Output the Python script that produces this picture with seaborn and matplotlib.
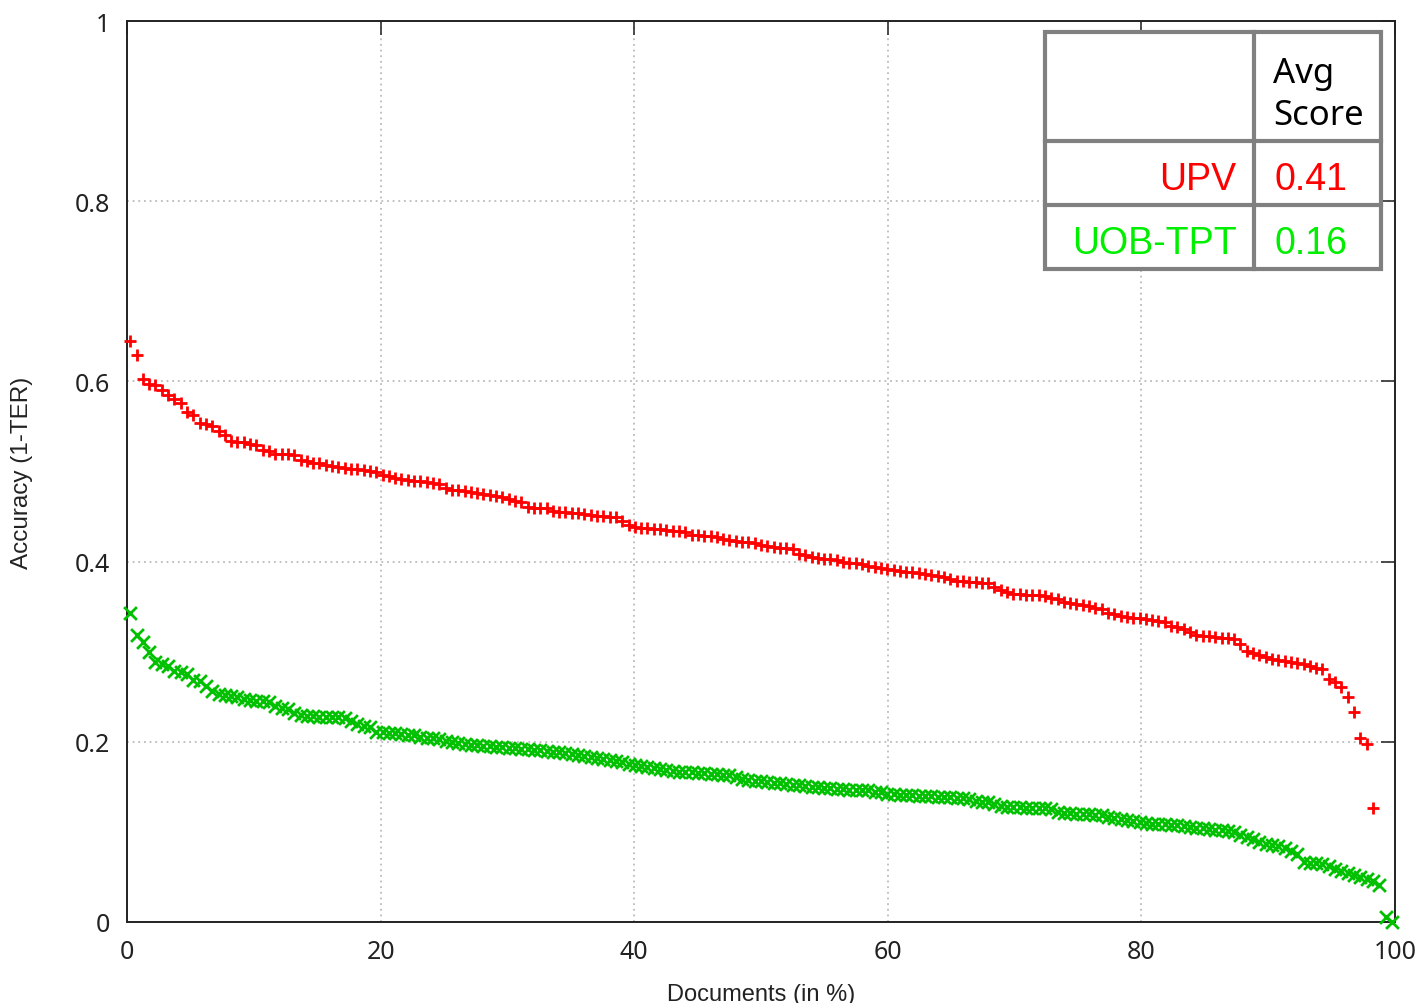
import matplotlib
matplotlib.use("Agg")
import matplotlib.pyplot as plt
import numpy as np
import pandas as pd
import seaborn as sns

# per-document accuracy (1-TER), sorted descending, 201 documents
n_docs = 201
upv_scores = [
    0.645, 0.629, 0.603, 0.597, 0.596, 0.590, 0.585, 0.580, 0.576, 0.566,
    0.563, 0.554, 0.553, 0.551, 0.545, 0.540, 0.534, 0.533, 0.533, 0.531,
    0.529, 0.524, 0.523, 0.520, 0.519, 0.519, 0.518, 0.513, 0.512, 0.509,
    0.509, 0.507, 0.506, 0.505, 0.504, 0.503, 0.503, 0.502, 0.501, 0.500,
    0.496, 0.495, 0.493, 0.492, 0.491, 0.490, 0.490, 0.488, 0.487, 0.486,
    0.482, 0.480, 0.479, 0.478, 0.477, 0.476, 0.475, 0.474, 0.473, 0.472,
    0.470, 0.467, 0.466, 0.461, 0.460, 0.459, 0.459, 0.456, 0.455, 0.455,
    0.454, 0.454, 0.453, 0.452, 0.451, 0.451, 0.450, 0.450, 0.445, 0.441,
    0.438, 0.437, 0.437, 0.436, 0.436, 0.435, 0.434, 0.434, 0.433, 0.430,
    0.429, 0.428, 0.428, 0.427, 0.425, 0.424, 0.423, 0.422, 0.422, 0.421,
    0.418, 0.417, 0.416, 0.415, 0.415, 0.414, 0.408, 0.407, 0.405, 0.404,
    0.403, 0.403, 0.402, 0.400, 0.399, 0.398, 0.397, 0.395, 0.394, 0.393,
    0.392, 0.391, 0.390, 0.389, 0.389, 0.387, 0.386, 0.385, 0.384, 0.383,
    0.381, 0.379, 0.378, 0.377, 0.377, 0.376, 0.376, 0.372, 0.368, 0.366,
    0.364, 0.364, 0.363, 0.363, 0.363, 0.362, 0.360, 0.358, 0.355, 0.354,
    0.353, 0.352, 0.351, 0.348, 0.347, 0.343, 0.342, 0.340, 0.338, 0.337,
    0.337, 0.336, 0.335, 0.334, 0.333, 0.329, 0.327, 0.325, 0.322, 0.318,
    0.317, 0.317, 0.316, 0.315, 0.315, 0.314, 0.309, 0.301, 0.299, 0.296,
    0.294, 0.292, 0.291, 0.290, 0.289, 0.287, 0.286, 0.284, 0.282, 0.281,
    0.270, 0.266, 0.261, 0.250, 0.233, 0.204, 0.198, 0.127,
]
uob_scores = [
    0.343, 0.319, 0.311, 0.300, 0.289, 0.286, 0.284, 0.279, 0.277, 0.275,
    0.269, 0.267, 0.262, 0.256, 0.253, 0.252, 0.251, 0.250, 0.248, 0.246,
    0.245, 0.245, 0.244, 0.240, 0.238, 0.236, 0.232, 0.230, 0.229, 0.229,
    0.228, 0.228, 0.227, 0.227, 0.226, 0.223, 0.220, 0.218, 0.216, 0.211,
    0.211, 0.210, 0.210, 0.209, 0.208, 0.207, 0.205, 0.204, 0.204, 0.203,
    0.201, 0.200, 0.199, 0.198, 0.197, 0.196, 0.195, 0.195, 0.194, 0.194,
    0.193, 0.193, 0.192, 0.192, 0.191, 0.191, 0.190, 0.189, 0.189, 0.188,
    0.187, 0.185, 0.184, 0.183, 0.182, 0.181, 0.180, 0.179, 0.178, 0.175,
    0.174, 0.173, 0.172, 0.171, 0.170, 0.169, 0.168, 0.167, 0.166, 0.166,
    0.165, 0.165, 0.164, 0.164, 0.163, 0.163, 0.161, 0.159, 0.158, 0.157,
    0.156, 0.155, 0.154, 0.154, 0.153, 0.152, 0.152, 0.151, 0.150, 0.150,
    0.149, 0.149, 0.148, 0.148, 0.147, 0.147, 0.146, 0.146, 0.144, 0.144,
    0.142, 0.142, 0.141, 0.141, 0.141, 0.140, 0.140, 0.140, 0.139, 0.139,
    0.139, 0.138, 0.138, 0.136, 0.134, 0.133, 0.133, 0.131, 0.129, 0.128,
    0.128, 0.128, 0.127, 0.127, 0.127, 0.126, 0.125, 0.122, 0.121, 0.121,
    0.120, 0.120, 0.120, 0.119, 0.119, 0.116, 0.115, 0.114, 0.113, 0.112,
    0.111, 0.110, 0.109, 0.109, 0.109, 0.108, 0.108, 0.106, 0.105, 0.104,
    0.104, 0.103, 0.102, 0.102, 0.101, 0.100, 0.097, 0.094, 0.092, 0.089,
    0.087, 0.086, 0.084, 0.082, 0.079, 0.075, 0.067, 0.066, 0.065, 0.064,
    0.062, 0.059, 0.057, 0.054, 0.052, 0.050, 0.048, 0.045, 0.041, 0.006,
    0.000,
]

systems = ["UPV", "UOB-TPT"]
avg_scores = ["0.41", "0.16"]
sys_colors = {"UPV": "#ff0000", "UOB-TPT": "#00c000"}
text_colors = {"UPV": "#ff0000", "UOB-TPT": "#00ee00"}
sys_markers = {"UPV": "+", "UOB-TPT": "x"}

x_ticks = [0, 20, 40, 60, 80, 100]
y_ticks = [0, 0.2, 0.4, 0.6, 0.8, 1]


def doc_frame(name, scores):
    rank = np.arange(len(scores))
    return pd.DataFrame({
        "doc_pct": (rank + 0.5) * 100.0 / n_docs,
        "score": scores,
        "system": name,
    })


df = pd.concat([doc_frame("UPV", upv_scores), doc_frame("UOB-TPT", uob_scores)],
               ignore_index=True)

sns.set_theme(style="white")
plt.rcParams["font.family"] = ["Noto Sans", "DejaVu Sans"]

fig = plt.figure(figsize=(14.18, 10.04), dpi=100)
ax = fig.add_axes([0.0896, 0.0807, 0.8942, 0.8973])

for name in systems:
    sub = df[df["system"] == name]
    sns.scatterplot(data=sub, x="doc_pct", y="score", ax=ax,
                    marker=sys_markers[name], color=sys_colors[name],
                    s=85, linewidth=2.0, legend=False, clip_on=False,
                    zorder=3)

ax.set_xlim(0, 100)
ax.set_ylim(0, 1)
ax.set_xticks(x_ticks)
ax.set_yticks(y_ticks)
ax.set_xticklabels([f"{v:g}" for v in x_ticks])
ax.set_yticklabels([f"{v:g}" for v in y_ticks])
ax.tick_params(axis="both", which="major", direction="in", length=10, width=1.2,
               labelsize=18, colors="#303030", top=True, right=True, pad=12,
               labelcolor="#222222")
ax.grid(True, color="#b0b0b0", linestyle=(0, (1.2, 2.5)), linewidth=1.1)
for sp in ax.spines.values():
    sp.set_color("#222222")
    sp.set_linewidth(1.4)

ax.set_xlabel("Documents (in %)", family=["Liberation Sans", "DejaVu Sans"],
              fontsize=17, color="#222222", labelpad=14)
ax.set_ylabel("Accuracy (1-TER)", family=["Liberation Sans", "DejaVu Sans"],
              fontsize=17.5, color="#222222", labelpad=30)

# score table in the top right corner (axes coordinates)
tx0, tx1, tmid = 0.724, 0.989, 0.889
ty_top, ty_h, ty_r1, ty_bot = 0.988, 0.867, 0.796, 0.725
border = dict(color="#808080", linewidth=3, transform=ax.transAxes,
              zorder=5, clip_on=False, solid_capstyle="projecting")
ax.add_patch(plt.Rectangle((tx0, ty_bot), tx1 - tx0, ty_top - ty_bot,
                           transform=ax.transAxes, facecolor="white",
                           edgecolor="#808080", linewidth=3, zorder=4,
                           clip_on=False))
ax.plot([tmid, tmid], [ty_bot, ty_top], **border)
ax.plot([tx0, tx1], [ty_h, ty_h], **border)
ax.plot([tx0, tx1], [ty_r1, ty_r1], **border)

ax.text(tmid + 0.015, (ty_top + ty_h) / 2 - 0.008, "Avg\nScore",
        transform=ax.transAxes, ha="left", va="center", fontsize=25,
        color="black", linespacing=1.3, zorder=6)
row_y = [(ty_h + ty_r1) / 2 - 0.007, (ty_r1 + ty_bot) / 2 - 0.007]
for name, avg, yy in zip(systems, avg_scores, row_y):
    ax.text(tmid - 0.014, yy, name, transform=ax.transAxes, ha="right",
            va="center", fontsize=27, color=text_colors[name], zorder=6,
            family=["Liberation Sans", "DejaVu Sans"])
    ax.text(tmid + 0.016, yy, avg, transform=ax.transAxes, ha="left",
            va="center", fontsize=27, color=text_colors[name], zorder=6,
            family=["Liberation Sans", "DejaVu Sans"])

fig.savefig("out.png", dpi=100, facecolor="white")
plt.close(fig)
